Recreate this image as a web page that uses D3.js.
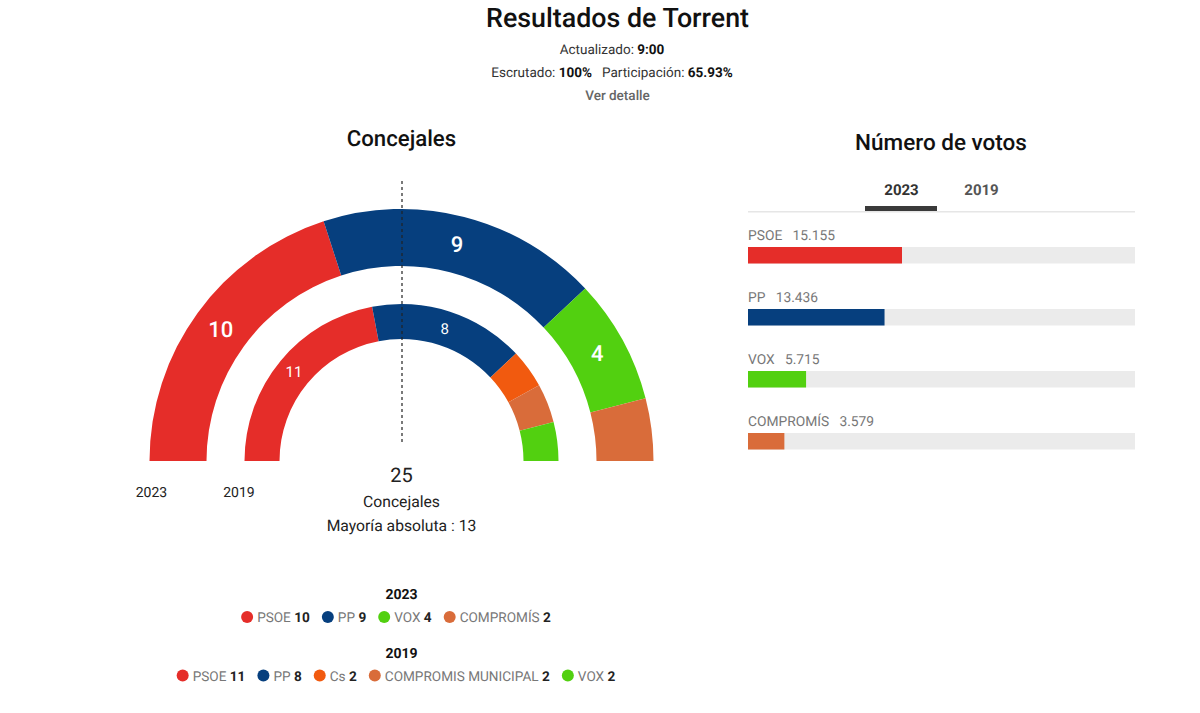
<!DOCTYPE html>
<html><head><meta charset="utf-8">
<script src="https://cdnjs.cloudflare.com/ajax/libs/d3/7.8.5/d3.min.js"></script>
<style>html,body{margin:0;padding:0;background:#fff}svg{display:block;font-family:Roboto,sans-serif;text-rendering:geometricPrecision}</style>
</head><body><svg id="c" width="1200" height="713"></svg>
<script>
const parties2023 = ["PSOE","PP","VOX","COMPROMÍS"];
const seats2023 = [10,9,4,2];
const colors2023 = ["#e52d29","#063f7e","#52d010","#d96c3a"];
const parties2019 = ["PSOE","PP","Cs","COMPROMIS MUNICIPAL","VOX"];
const seats2019 = [11,8,2,2,2];
const colors2019 = ["#e52d29","#063f7e","#f15a0f","#d96c3a","#52d010"];
const votes2023 = [15155,13436,5715,3579];
const voteLabels = ["15.155","13.436","5.715","3.579"];
const voteMax = 38085;
const tabs = ["2023","2019"];

const svg = d3.select("#c");
const txt = (x,y,s,size,fill,weight,anchor) => svg.append("text").attr("x",x).attr("y",y).text(s)
  .attr("font-size",size).attr("fill",fill).attr("font-weight",weight||400).attr("text-anchor",anchor||"middle");

txt(617.5,27,"Resultados de Torrent",26.8,"#111",500);
const head = (cx,y,parts)=>{
  const t = svg.append("text").attr("x",cx).attr("y",y).attr("text-anchor","middle").attr("font-size",13.5);
  parts.forEach(([s,b])=>t.append("tspan").text(s).attr("font-weight",b?700:400).attr("fill",b?"#111":"#333"));
};
head(612,54,[["Actualizado: ",0],["9:00",1]]);
head(612,76.5,[["Escrutado: ",0],["100%",1],["\u00a0\u00a0\u00a0Participación: ",0],["65.93%",1]]);
txt(617.5,100,"Ver detalle",13.5,"#666",500);
txt(401.5,146,"Concejales",22.2,"#111",500);
txt(941,150,"Número de votos",22.5,"#111",500);

const cx=401.5, cy=461;
const pie = d3.pie().sort(null).startAngle(-Math.PI/2).endAngle(Math.PI/2);
function ring(values,colors,r0,r1,size,weight,minLabel){
  const arc=d3.arc().innerRadius(r0).outerRadius(r1);
  const g=svg.append("g").attr("transform",`translate(${cx},${cy})`);
  const arcs=pie(values);
  g.selectAll("path").data(arcs).join("path").attr("d",arc).attr("fill",(d,i)=>colors[i]);
  g.selectAll("text").data(arcs.filter(d=>d.value>=minLabel)).join("text")
    .attr("transform",d=>`translate(${arc.centroid(d)})`).attr("dy","0.35em")
    .attr("text-anchor","middle").attr("fill","#fff").attr("font-size",size).attr("font-weight",weight).text(d=>d.value);
}
ring(seats2023,colors2023,195,252,22,500,3);
ring(seats2019,colors2019,122,157,15,400,3);
svg.append("line").attr("x1",402).attr("x2",402).attr("y1",181).attr("y2",442)
  .attr("stroke","#222").attr("stroke-width",1.2).attr("stroke-dasharray","3 3");

txt(151.5,496.5,"2023",14,"#222");
txt(239,496.5,"2019",14,"#222");
txt(401.5,482,"25",20,"#222");
txt(401.5,506.5,"Concejales",15.7,"#222");
txt(401.5,531,"Mayoría absoluta : 13",15.7,"#222");

function legend(year,y,names,vals,cols){
  txt(401.5,y-23,year,14,"#111",700);
  const g=svg.append("g");
  let x=0;
  names.forEach((n,i)=>{
    const it=g.append("g").attr("transform",`translate(${x},0)`);
    it.append("circle").attr("cx",6).attr("cy",y-5).attr("r",6).attr("fill",cols[i]);
    const t=it.append("text").attr("x",16).attr("y",y).attr("font-size",13.6);
    t.append("tspan").text(n+"\u00a0").attr("fill","#777");
    t.append("tspan").text(vals[i]).attr("fill","#222").attr("font-weight",700);
    x+=16+t.node().getComputedTextLength()+12;
  });
  g.attr("transform",`translate(${401.5-(x-12)/2-5.5},0)`);
}
legend("2023",622,parties2023,seats2023,colors2023);
legend("2019",680.5,parties2019,seats2019,colors2019);

const bx=d3.scaleLinear().domain([0,voteMax]).range([748,1135]);
svg.append("rect").attr("x",748).attr("y",211).attr("width",387).attr("height",1.5).attr("fill","#e6e6e6");
svg.append("rect").attr("x",865).attr("y",206).attr("width",72).attr("height",5).attr("fill","#3a3a3a");
txt(901.5,194.5,tabs[0],15,"#333",700);
txt(981.5,194.5,tabs[1],15,"#555",700);
const by=d3.scalePoint().domain(parties2023).range([247,433]);
parties2023.forEach((p,i)=>{
  const y=by(p);
  svg.append("rect").attr("x",bx(0)).attr("y",y).attr("width",bx(voteMax)-bx(0)).attr("height",16.5).attr("fill","#ebebeb");
  svg.append("rect").attr("x",bx(0)).attr("y",y).attr("width",bx(votes2023[i])-bx(0)).attr("height",16.5).attr("fill",colors2023[i]);
  txt(748,y-7.5,p+"\u00a0\u00a0\u00a0"+voteLabels[i],13.8,"#777",400,"start");
});
</script></body></html>
